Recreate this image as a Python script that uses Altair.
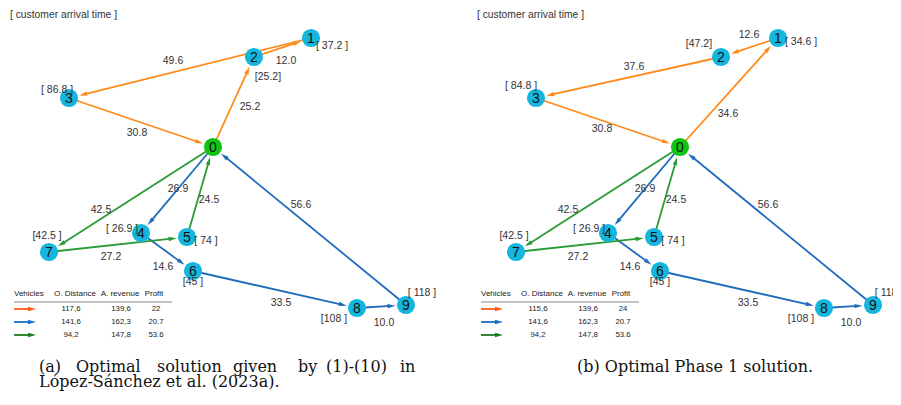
import altair as alt
import numpy as np
import pandas as pd

# ---------------- data ----------------
node_ids = [0, 1, 2, 3, 4, 5, 6, 7, 8, 9]
# network layout (same in both panels)
node_x = [213, 311, 254, 69, 141, 187, 193, 49, 357, 406]
node_y = [147, 38, 57, 98, 233, 237, 271, 252, 308, 305]

vehicles = ["orange", "blue", "green"]
routes_a = {"orange": [0, 2, 1, 3, 0], "blue": [0, 4, 6, 8, 9, 0], "green": [0, 7, 5, 0]}
routes_b = {"orange": [0, 1, 2, 3, 0], "blue": [0, 4, 6, 8, 9, 0], "green": [0, 7, 5, 0]}
dist_a = {"orange": [25.2, 12.0, 49.6, 30.8], "blue": [26.9, 14.6, 33.5, 10.0, 56.6], "green": [42.5, 27.2, 24.5]}
dist_b = {"orange": [34.6, 12.6, 37.6, 30.8], "blue": [26.9, 14.6, 33.5, 10.0, 56.6], "green": [42.5, 27.2, 24.5]}

arrival_a = ["[ 37.2 ]", "[25.2]", "[ 86.8 ]", "[ 26.9 ]", "[ 74 ]", "[45 ]", "[42.5 ]", "[108 ]", "[ 118 ]"]
arrival_b = ["[ 34.6 ]", "[47.2]", "[ 84.8 ]", "[ 26.9 ]", "[ 74 ]", "[45 ]", "[42.5 ]", "[108 ]", "[ 118 ]"]

table_header = ["Vehicles", "O. Distance", "A. revenue", "Profit"]
table_a = [["117,6", "139,6", "22"], ["141,6", "162,3", "20.7"], ["94,2", "147,8", "53.6"]]
table_b = [["115,6", "139,6", "24"], ["141,6", "162,3", "20.7"], ["94,2", "147,8", "53.6"]]

caption_a = [["(a)", "Optimal", "solution", "given", "by", "(1)-(10)", "in"], ["López-Sánchez et al. (2023a)."]]
caption_b = "(b) Optimal Phase 1 solution."
legend_title = "[ customer arrival time ]"

# ---------------- layout / style ----------------
edge_color = {"orange": "#ff8a1c", "blue": "#1f6cbd", "green": "#2b9b35"}
legend_color = {"orange": "#ff5a1e", "blue": "#1b6fc6", "green": "#1f7c1f"}
node_color = ["#11c411"] + ["#15b6dd"] * 9

edge_label_pos_a = {"orange": [(250, 107), (286, 61), (173, 61), (137, 133)],
                    "blue": [(178, 189), (163, 267), (281, 303), (384, 323), (301, 205)],
                    "green": [(101, 210), (111, 257), (209, 200)]}
edge_label_pos_b = {"orange": [(261, 114), (282, 35), (167, 67), (135, 129)],
                    "blue": [(178, 189), (163, 267), (281, 303), (384, 323), (301, 205)],
                    "green": [(101, 210), (111, 257), (209, 200)]}
arrival_pos_a = [(332, 46), (268, 77), (57, 90), (122, 229), (206, 241), (193, 282), (47, 236), (334, 319), (422, 293)]
arrival_pos_b = [(334, 42), (232, 44), (54, 86), (122, 229), (206, 241), (193, 282), (47, 236), (334, 319), (422, 293)]

hdr_pos = [(14, "left"), (75, "center"), (120, "center"), (154, "center")]
col_x = [71, 121, 156]
row_y = [309, 322, 335]
caption_a_x = [39, 76, 157, 233, 298, 326, 400]
cap_y = [372, 387]

ARROW = "M0,-1L0.55,1L-0.55,1Z"
R = 10.5
SANS = "Liberation Sans"
H = 383  # plot height; layout y domain [8, 8 + H]


def make_panel(routes, dists, label_pos, arrivals, arrival_pos, table, cap_words, cap_line, width, clip_right):
    xs = alt.Scale(domain=[8, 8 + width], nice=False, zero=False)
    ys = alt.Scale(domain=[8, 8 + H], nice=False, zero=False, reverse=True)
    X = lambda f="x": alt.X(f + ":Q", scale=xs, axis=None)
    Y = lambda f="y": alt.Y(f + ":Q", scale=ys, axis=None)

    seg_rows, head_rows, lab_rows = [], [], []
    for v in vehicles:
        r = routes[v]
        for k in range(len(r) - 1):
            a, b = r[k], r[k + 1]
            p = np.array([node_x[a], node_y[a]], float)
            q = np.array([node_x[b], node_y[b]], float)
            d = (q - p) / np.linalg.norm(q - p)
            tip = q - d * R
            seg_rows.append(dict(x=p[0], y=p[1], x2=(tip - d * 5)[0], y2=(tip - d * 5)[1], c=edge_color[v]))
            hc = tip - d * 4
            ang = (np.degrees(np.arctan2(d[0], -d[1])) + 360) % 360
            head_rows.append(dict(x=hc[0], y=hc[1], angle=ang, c=edge_color[v]))
            lx, ly = label_pos[v][k]
            lab_rows.append(dict(x=lx, y=ly, t=f"{dists[v][k]:.1f}"))
    segs = pd.DataFrame(seg_rows)
    heads = pd.DataFrame(head_rows)
    labs = pd.DataFrame(lab_rows)

    edges = alt.Chart(segs).mark_rule(strokeWidth=1.8).encode(
        x=X(), y=Y(), x2="x2:Q", y2="y2:Q", color=alt.Color("c:N", scale=None))
    arrowheads = alt.Chart(heads).mark_point(shape=ARROW, filled=True, size=64, opacity=1).encode(
        x=X(), y=Y(), angle=alt.Angle("angle:Q", scale=None), color=alt.Color("c:N", scale=None))
    elabels = alt.Chart(labs).mark_text(fontSize=10.5, font=SANS, color="#333333").encode(
        x=X(), y=Y(), text="t:N")

    nodes = pd.DataFrame(dict(x=node_x, y=node_y, id=[str(i) for i in node_ids], c=node_color))
    ncirc = alt.Chart(nodes).mark_circle(size=330, opacity=1).encode(
        x=X(), y=Y(), color=alt.Color("c:N", scale=None))
    ntext = alt.Chart(nodes).mark_text(fontSize=14, font=SANS, color="#111111", dy=0.5).encode(
        x=X(), y=Y(), text="id:N")

    arr = pd.DataFrame(dict(x=[p[0] for p in arrival_pos], y=[p[1] for p in arrival_pos], t=arrivals))
    atext = alt.Chart(arr).mark_text(fontSize=10.5, font=SANS, color="#333333", clip=clip_right).encode(
        x=X(), y=Y(), text="t:N")

    title = alt.Chart(pd.DataFrame(dict(x=[10], y=[15], t=[legend_title]))).mark_text(
        fontSize=10.3, font=SANS, color="#333333", align="left").encode(x=X(), y=Y(), text="t:N")

    # table
    hdr = pd.DataFrame(dict(x=[p[0] for p in hdr_pos], y=[294] * 4, t=table_header, al=[p[1] for p in hdr_pos]))
    hdr_left = alt.Chart(hdr[hdr.al == "left"]).mark_text(fontSize=8, font=SANS, align="left",
                                                           color="#222222").encode(x=X(), y=Y(), text="t:N")
    hdr_c = alt.Chart(hdr[hdr.al == "center"]).mark_text(fontSize=8, font=SANS,
                                                          color="#222222").encode(x=X(), y=Y(), text="t:N")
    rule = alt.Chart(pd.DataFrame(dict(x=[14], x2=[172], y=[302]))).mark_rule(
        color="#8a8a8a", strokeWidth=1).encode(x=X(), x2="x2:Q", y=Y())
    cells = []
    for i, row in enumerate(table):
        for j, val in enumerate(row):
            cells.append(dict(x=col_x[j], y=row_y[i], t=val))
    cells = pd.DataFrame(cells)
    ctext = alt.Chart(cells).mark_text(fontSize=7.8, font=SANS, color="#222222").encode(
        x=X(), y=Y(), text="t:N")
    leg = pd.DataFrame(dict(x=[14] * 3, x2=[29] * 3, y=row_y, hx=[32] * 3, c=[legend_color[v] for v in vehicles]))
    leg_lines = alt.Chart(leg).mark_rule(strokeWidth=1.8).encode(
        x=X(), x2="x2:Q", y=Y(), color=alt.Color("c:N", scale=None))
    leg_heads = alt.Chart(leg).mark_point(shape=ARROW, filled=True, size=64, opacity=1, angle=90).encode(
        x=X("hx"), y=Y(), color=alt.Color("c:N", scale=None))

    # caption
    if cap_words is not None:
        words = pd.DataFrame(dict(x=caption_a_x, y=[cap_y[0]] * len(cap_words[0]), t=cap_words[0]))
        line2 = pd.DataFrame(dict(x=[39], y=[cap_y[1]], t=cap_words[1]))
        cap = pd.concat([words, line2])
        cap_layer = alt.Chart(cap).mark_text(fontSize=16, font="DejaVu Serif", align="left",
                                             baseline="alphabetic", color="#111111").encode(
            x=X(), y=Y(), text="t:N")
    else:
        capdf = pd.DataFrame(dict(x=[228], y=[cap_y[0]], t=[cap_line]))
        cap_layer = alt.Chart(capdf).mark_text(fontSize=16, font="DejaVu Serif", align="center",
                                               baseline="alphabetic", color="#111111").encode(
            x=X(), y=Y(), text="t:N")

    return alt.layer(edges, arrowheads, ncirc, ntext, elabels, atext, title,
                     hdr_left, hdr_c, rule, ctext, leg_lines, leg_heads, cap_layer).properties(
        width=width, height=H)


panel_a = make_panel(routes_a, dist_a, edge_label_pos_a, arrival_a, arrival_pos_a, table_a, caption_a, None, 467, False)
panel_b = make_panel(routes_b, dist_b, edge_label_pos_b, arrival_b, arrival_pos_b, table_b, None, caption_b, 418, True)

chart = alt.hconcat(panel_a, panel_b, spacing=0).properties(padding=0).configure_view(stroke=None)
chart.save("out.html", embed_options={"renderer": "svg", "actions": False})
